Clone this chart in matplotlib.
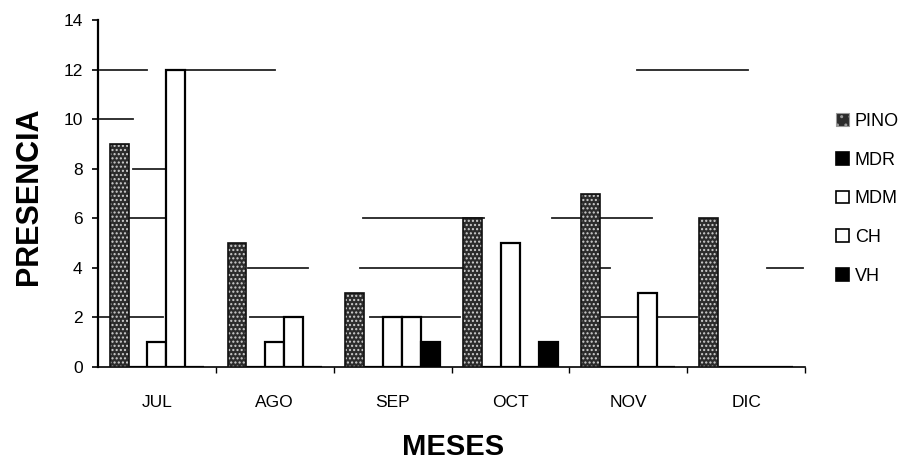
import numpy as np
import matplotlib
matplotlib.use("Agg")
import matplotlib.pyplot as plt
from matplotlib.patches import Patch

plt.rcParams['font.family'] = ['Liberation Sans', 'DejaVu Sans']

months = ["JUL", "AGO", "SEP", "OCT", "NOV", "DIC"]
series_names = ["PINO", "MDR", "MDM", "CH", "VH"]
pino = [9, 5, 3, 6, 7, 6]
mdr = [0, 0, 0, 0, 0, 0]
mdm = [1, 1, 2, 5, 0, 0]
ch = [12, 2, 2, 0, 3, 0]
vh = [0, 0, 1, 1, 0, 0]
yticks = [0, 2, 4, 6, 8, 10, 12, 14]

series_values = [pino, mdr, mdm, ch, vh]
face = ['#2c2c2c', 'black', 'white', 'white', 'black']
hatches = ['....', None, None, None, None]

# partially erased gridline fragments of the scanned original (y value, axes-fraction start, end)
grid_fragments = [
    (12, 0.003, 0.069), (12, 0.123, 0.250), (12, 0.762, 0.919),
    (10, 0.003, 0.049),
    (8, 0.049, 0.098),
    (6, 0.045, 0.098), (6, 0.375, 0.546), (6, 0.642, 0.784),
    (4, 0.212, 0.297), (4, 0.371, 0.516), (4, 0.710, 0.724), (4, 0.946, 0.997),
    (2, 0.003, 0.092), (2, 0.215, 0.290), (2, 0.385, 0.512), (2, 0.710, 0.847),
]

fig = plt.figure(figsize=(9.05, 4.72), dpi=100)
ax = fig.add_axes([98 / 905, 1 - 367 / 472, (805 - 98) / 905, (367 - 20) / 472])

x = np.arange(len(months))
n = len(series_names)
w = 0.16
for i, (vals, fc, h) in enumerate(zip(series_values, face, hatches)):
    pos = x + (i - (n - 1) / 2) * w
    if h:
        ax.bar(pos, vals, w, color=fc, edgecolor='#d0d0d0', hatch=h, linewidth=0, zorder=3)
        ax.bar(pos, vals, w, fill=False, edgecolor='#111111', linewidth=1.2, zorder=4)
    else:
        ax.bar(pos, vals, w, color=fc, edgecolor='black', linewidth=1.6, zorder=3)

for yv, a, b in grid_fragments:
    ax.axhline(yv, a, b, color='#222222', linewidth=1.3, zorder=2, clip_on=False)

ax.set_xlim(-0.5, 5.5)
ax.set_ylim(0, 14)
ax.set_yticks(yticks)
ax.set_xticks(x)
ax.set_xticklabels(months)
ax.set_xticks(np.arange(0.5, len(months), 1.0), minor=True)
ax.tick_params(axis='x', which='major', length=0, pad=20, labelsize=12.5)
ax.tick_params(axis='x', which='minor', length=4, width=1, direction='out')
ax.tick_params(axis='y', length=4, width=1.2, pad=7, labelsize=12.5)

for s in ['top', 'right']:
    ax.spines[s].set_visible(False)
ax.spines['left'].set_linewidth(1.6)
ax.spines['bottom'].set_linewidth(1.2)

fig.text(29 / 905, 1 - 196 / 472, "PRESENCIA", rotation=90, ha='center', va='center',
         fontsize=22, fontweight='bold')
fig.text(453 / 905, 1 - 447 / 472, "MESES", ha='center', va='center',
         fontsize=21, fontweight='bold')

handles = []
for name, fc, h in zip(series_names, face, hatches):
    if h:
        handles.append(Patch(facecolor=fc, edgecolor='#999999', hatch='..', linewidth=0.8, label=name))
    else:
        handles.append(Patch(facecolor=fc, edgecolor='black', linewidth=1.2, label=name))
leg = fig.legend(handles=handles, loc='upper left', bbox_to_anchor=(836 / 905, 1 - 113 / 472),
                 frameon=False, fontsize=13, handlelength=0.7, handleheight=0.7,
                 handletextpad=0.35, labelspacing=1.2, borderaxespad=0, borderpad=0)

fig.savefig("out.png", dpi=100)
